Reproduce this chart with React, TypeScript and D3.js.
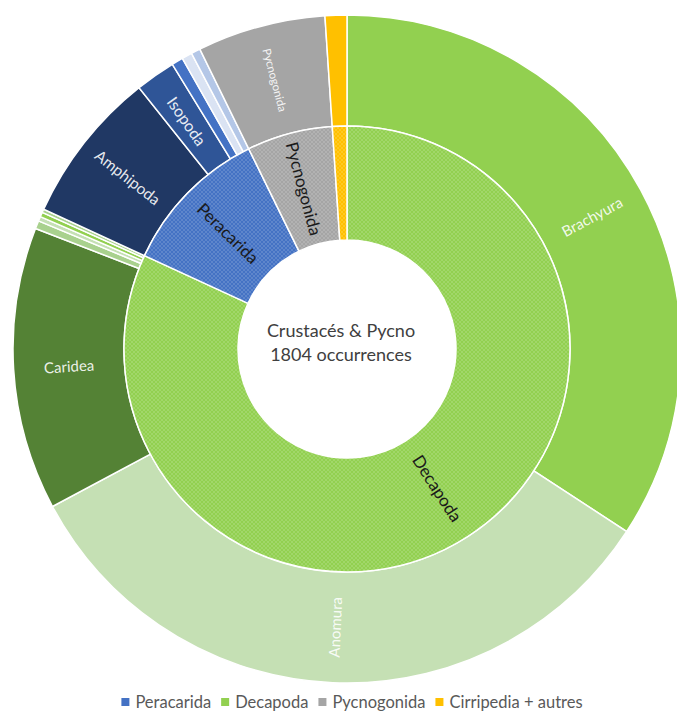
import * as d3 from 'd3';
import { useLayoutEffect, useRef, useState } from 'react';

const width = 677;
const height = 720;
const cx = 347;
const cy = 349;
const rHole = 109;
const rMid = 223;
const rOuter = 334;

// inner ring, clockwise from 12 o'clock
const groups = ['Decapoda', 'Peracarida', 'Pycnogonida', 'Cirripedia + autres'];
const groupValues = [1477, 196, 112, 19];
const groupColors = ['#92D050', '#4472C4', '#A5A5A5', '#FFC000'];

// outer ring, same order
const subNames = ['Brachyura', 'Anomura', 'Caridea', '', '', '', '', 'Amphipoda', 'Isopoda', '', '', '', 'Pycnogonida', ''];
const subValues = [617, 595, 247, 7, 4, 4, 3, 134, 35, 10, 9, 8, 112, 19];
const subColors = [
  '#92D050', '#C5E0B4', '#548235', '#A9D18E', '#C5E0B4', '#92D050', '#A9D18E',
  '#203864', '#2F5597', '#4472C4', '#DAE3F3', '#B4C7E7', '#A5A5A5', '#FFC000',
];
const subFont = [15, 15, 15, 0, 0, 0, 0, 15.5, 16, 0, 0, 0, 11.5, 0];

const legendNames = ['Peracarida', 'Decapoda', 'Pycnogonida', 'Cirripedia + autres'];
const legendColors = ['#4472C4', '#92D050', '#A5A5A5', '#FFC000'];
const legendCenter = 352;
const legendGap = 10;
const legendFont = 16.5;

const font = 'Lato, "Open Sans", sans-serif';

const pie = d3
  .pie<number>()
  .sort(null)
  .startAngle(0)
  .endAngle(2 * Math.PI);

// rotate text along the radius, flipped on the left half so it stays readable
const labelRotation = (a0: number, a1: number) => {
  const mid = ((a0 + a1) / 2) * (180 / Math.PI);
  let rot = mid - 90;
  if (mid > 180) rot -= 180;
  return rot;
};

const Legend = () => {
  const refs = useRef<(SVGTextElement | null)[]>([]);
  const [xs, setXs] = useState<number[]>([116, 215, 299, 403]);

  useLayoutEffect(() => {
    const widths = refs.current.map((t) => (t ? t.getComputedTextLength() : 60));
    const itemW = widths.map((w) => 8 + 6 + w);
    const total = d3.sum(itemW) + legendGap * (itemW.length - 1);
    let x = legendCenter - total / 2;
    const out: number[] = [];
    itemW.forEach((w) => {
      out.push(x);
      x += w + legendGap;
    });
    setXs(out);
  }, []);

  return (
    <g className="legend" fontFamily={font} fontSize={legendFont} fill="#595959">
      {legendNames.map((n, i) => (
        <g key={n}>
          <rect x={xs[i]} y={698} width={8} height={8} fill={legendColors[i]} />
          <text
            ref={(el) => {
              refs.current[i] = el;
            }}
            x={xs[i] + 14}
            y={702}
            dominantBaseline="central"
          >
            {n}
          </text>
        </g>
      ))}
    </g>
  );
};

export default function App() {
  const innerArcs = pie(groupValues);
  const outerArcs = pie(subValues);
  const innerArc = d3.arc<d3.PieArcDatum<number>>().innerRadius(rHole).outerRadius(rMid);
  const outerArc = d3.arc<d3.PieArcDatum<number>>().innerRadius(rMid).outerRadius(rOuter);
  const innerLabelArc = d3
    .arc<d3.PieArcDatum<number>>()
    .innerRadius((rHole + rMid) / 2)
    .outerRadius((rHole + rMid) / 2);
  const outerLabelArc = d3
    .arc<d3.PieArcDatum<number>>()
    .innerRadius((rMid + rOuter) / 2)
    .outerRadius((rMid + rOuter) / 2);

  return (
    <svg
      width={width}
      height={height}
      style={{ position: 'absolute', left: 0, top: 0, background: '#fff' }}
    >
      <defs>
        {groupColors.map((c, i) => (
          <pattern key={i} id={`dots${i}`} width={4} height={4} patternUnits="userSpaceOnUse">
            <rect width={4} height={4} fill={c} />
            <rect x={0} y={0} width={2} height={2} fill="#fff" opacity={0.14} />
            <rect x={2} y={2} width={2} height={2} fill="#fff" opacity={0.14} />
          </pattern>
        ))}
      </defs>
      <g transform={`translate(${cx},${cy})`}>
        <g className="outer">
          {outerArcs.map((a, i) => (
            <path key={i} d={outerArc(a) || ''} fill={subColors[i]} stroke="#fff" strokeWidth={1.5} />
          ))}
        </g>
        <g className="inner">
          {innerArcs.map((a, i) => (
            <path key={i} d={innerArc(a) || ''} fill={`url(#dots${i})`} stroke="#fff" strokeWidth={1.5} />
          ))}
        </g>
        <g className="outer-labels">
          {outerArcs.map((a, i) => {
            if (!subNames[i]) return null;
            const [x, y] = outerLabelArc.centroid(a);
            return (
              <text
                key={i}
                transform={`translate(${x},${y}) rotate(${labelRotation(a.startAngle, a.endAngle)})`}
                textAnchor="middle"
                dominantBaseline="central"
                fill="#fff"
                fillOpacity={0.9}
                fontFamily={font}
                fontSize={subFont[i]}
              >
                {subNames[i]}
              </text>
            );
          })}
        </g>
        <g className="inner-labels">
          {innerArcs.map((a, i) => {
            if (i === 3) return null;
            let [lx, ly] = innerLabelArc.centroid(a);
            let rot = labelRotation(a.startAngle, a.endAngle);
            if (i === 0) {
              // Excel puts the big slice label off-centre, lower right
              const ang = (147 * Math.PI) / 180;
              lx = Math.sin(ang) * ((rHole + rMid) / 2);
              ly = -Math.cos(ang) * ((rHole + rMid) / 2);
              rot = 57;
            }
            return (
              <text
                key={i}
                transform={`translate(${lx},${ly}) rotate(${rot})`}
                textAnchor="middle"
                dominantBaseline="central"
                fill="#1a1a1a"
                fontFamily={font}
                fontSize={17}
              >
                {groups[i]}
              </text>
            );
          })}
        </g>
      </g>
      <g className="center" fontFamily={font} fontSize={18} fill="#404040" textAnchor="middle">
        <text x={341} y={337}>Crustacés &amp; Pycno</text>
        <text x={341} y={361}>1804 occurrences</text>
      </g>
      <Legend />
    </svg>
  );
}
